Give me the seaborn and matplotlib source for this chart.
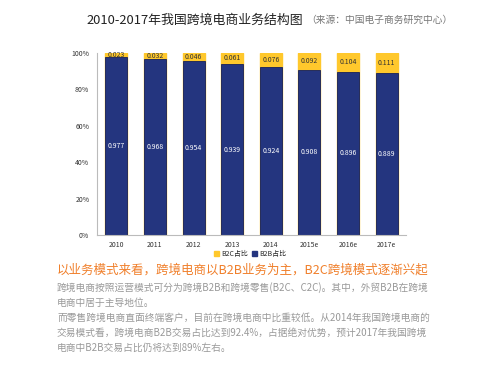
import pandas as pd
import matplotlib
matplotlib.use('Agg')
import matplotlib.pyplot as plt
import seaborn as sns
from matplotlib.patches import Patch

# 数据
years = ['2010', '2011', '2012', '2013', '2014', '2015e', '2016e', '2017e']
b2b = [0.977, 0.968, 0.954, 0.939, 0.924, 0.908, 0.896, 0.889]
b2c = [0.023, 0.032, 0.046, 0.061, 0.076, 0.092, 0.104, 0.111]

navy = '#24357F'
yellow = '#FFC82C'

sns.set_style('white')
plt.rcParams['font.family'] = ['Noto Sans CJK SC', 'DejaVu Sans']

df = pd.DataFrame({'年份': years, 'B2B': b2b, 'B2C': b2c})
df['合计'] = df['B2B'] + df['B2C']

fig = plt.figure(figsize=(5, 3.75), dpi=100)
ax = fig.add_axes([0.194, 0.373, 0.618, 0.486])

# 先画合计（黄色），再叠加B2B（深蓝）
sns.barplot(data=df, x='年份', y='合计', color=yellow, width=0.57,
            saturation=1, edgecolor=yellow, ax=ax)
sns.barplot(data=df, x='年份', y='B2B', color=navy, width=0.57,
            saturation=1, edgecolor='#15205a', linewidth=0.6, ax=ax)

# 数据标签
for i in range(len(df)):
    ax.text(i, b2b[i] / 2, f"{b2b[i]:.3f}", color='white', fontsize=5,
            ha='center', va='center')
    ax.text(i, b2b[i] + b2c[i] / 2, f"{b2c[i]:.3f}", color='#333333',
            fontsize=5, ha='center', va='center')

ax.set_xlim(-0.5, 7.5)
ax.set_ylim(0, 1)
ax.set_yticks([0, 0.2, 0.4, 0.6, 0.8, 1.0])
ax.set_yticklabels(['0%', '20%', '40%', '60%', '80%', '100%'])
ax.tick_params(axis='both', labelsize=5, colors='#333333', length=2, width=0.5)
ax.tick_params(axis='x', length=0, pad=4)
ax.set_xlabel('')
ax.set_ylabel('')
for s in ['top', 'right']:
    ax.spines[s].set_visible(False)
for s in ['left', 'bottom']:
    ax.spines[s].set_color('#bbbbbb')
    ax.spines[s].set_linewidth(0.8)

# 图例
handles = [Patch(color=yellow, label='B2C占比'), Patch(color=navy, label='B2B占比')]
fig.legend(handles=handles, loc='center', bbox_to_anchor=(0.5, 1 - 254 / 375),
           ncol=2, fontsize=5, frameon=False, handlelength=0.7, handleheight=0.7,
           handletextpad=0.3, columnspacing=0.6)

# 标题
fig.text(86 / 500, 1 - 20 / 375, '2010-2017年我国跨境电商业务结构图', fontsize=9.3,
         color='#222222', va='center', ha='left')
fig.text(306 / 500, 1 - 20 / 375, '（来源：中国电子商务研究中心）', fontsize=7.0,
         color='#777777', va='center', ha='left')

# 正文
fig.text(57 / 500, 1 - 270 / 375, '以业务模式来看，跨境电商以B2B业务为主，B2C跨境模式逐渐兴起',
         fontsize=9.0, color='#F07F2A', va='center', ha='left')
body = [
    '跨境电商按照运营模式可分为跨境B2B和跨境零售(B2C、C2C)。其中，外贸B2B在跨境',
    '电商中居于主导地位。',
    '而零售跨境电商直面终端客户，目前在跨境电商中比重较低。从2014年我国跨境电商的',
    '交易模式看，跨境电商B2B交易占比达到92.4%，占据绝对优势，预计2017年我国跨境',
    '电商中B2B交易占比仍将达到89%左右。',
]
ys = [288, 303, 318, 333, 348]
for t, y in zip(body, ys):
    fig.text(57 / 500, 1 - y / 375, t, fontsize=7.0, color='#999999',
             va='center', ha='left')

fig.savefig('out.png', dpi=100)
